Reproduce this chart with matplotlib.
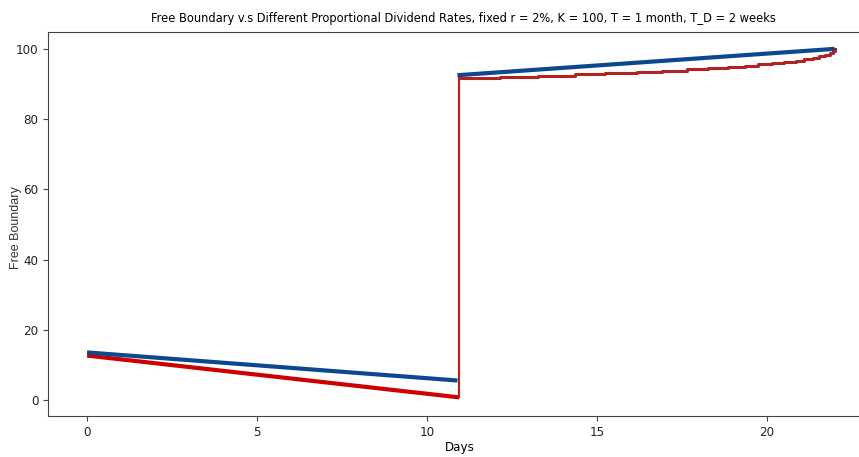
import numpy as np
import matplotlib.pyplot as plt

# ----------------------------
# Free boundary data (days, boundary level)
# ----------------------------
blue_before_days = [0.0, 10.9]
blue_before_fb = [13.6, 5.6]
blue_after_days = [10.9, 22.0]
blue_after_fb = [92.5, 100.0]

red_before_days = [0.0, 10.95]
red_before_fb = [12.7, 0.8]

red_jump_days = [10.95, 10.95]
red_jump_fb = [0.8, 91.7]

red_step_days = [10.95, 12.15, 13.26, 14.35, 15.24, 16.18, 16.91, 17.65,
                 18.26, 18.85, 19.35, 19.75, 20.15, 20.5, 20.85, 21.1, 21.35,
                 21.55, 21.72, 21.85, 21.95, 22.0]
red_step_fb = [91.7, 92.05, 92.4, 92.75, 93.1, 93.45, 93.8, 94.15,
               94.5, 94.85, 95.2, 95.55, 95.9, 96.25, 96.6, 97.0, 97.4,
               97.85, 98.3, 98.8, 99.4, 100.0]

xticks = [0, 5, 10, 15, 20]
yticks = [0, 20, 40, 60, 80, 100]

# ----------------------------
# Plot
# ----------------------------
fig = plt.figure(figsize=(8.59, 4.57), dpi=100)
ax = fig.add_axes([48/859, 1 - 416/457, (872 - 48)/859, (416 - 32)/457])

ax.plot(red_before_days, red_before_fb, color="#cc0000", lw=3, solid_capstyle="butt")
ax.plot(red_jump_days, red_jump_fb, color="#b22222", lw=1.6)
ax.step(red_step_days, red_step_fb, where="post", color="#b22222", lw=2.2)
ax.plot(blue_before_days, blue_before_fb, color="#0b4890", lw=3, solid_capstyle="butt")
ax.plot(blue_after_days, blue_after_fb, color="#0b4890", lw=3, solid_capstyle="butt")

ax.set_xlim(-1.15, 23.1)
ax.set_ylim(-4.5, 104.8)
ax.set_xticks(xticks)
ax.set_yticks(yticks)
ax.tick_params(labelsize=9.5, color="#444444", labelcolor="#222222")
for lbl in ax.get_xticklabels() + ax.get_yticklabels():
    lbl.set_fontstretch("condensed")
for s in ax.spines.values():
    s.set_color("#444444")

ax.set_xlabel("Days", fontsize=9.5, fontstretch="condensed", labelpad=1.5)
ax.set_ylabel("Free Boundary", fontsize=9, family="Liberation Sans", color="#333333")
ax.yaxis.set_label_coords(-0.032, 0.49)
ax.set_title("Free Boundary v.s Different Proportional Dividend Rates, fixed r = 2%, "
             "K = 100, T = 1 month, T_D = 2 weeks", fontsize=9.2, fontstretch="condensed",
             x=0.5 + 3/824, pad=7)

fig.savefig("out.png", dpi=100)
